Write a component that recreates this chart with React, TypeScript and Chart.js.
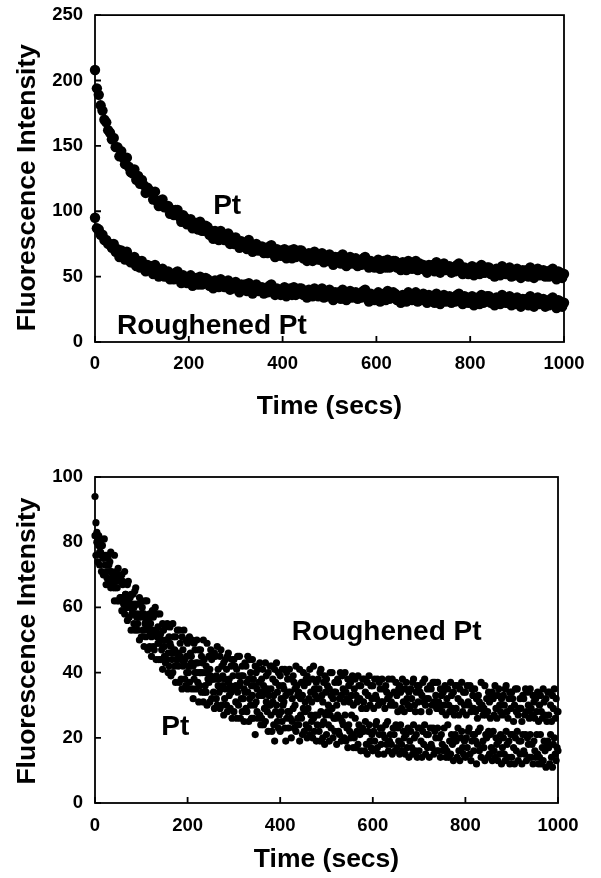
import React, { useEffect, useRef } from "react";
import { Chart, registerables } from "chart.js";

Chart.register(...registerables);

const FONT = "Arial, 'Liberation Sans', Helvetica, sans-serif";

// sampling interval (seconds) of each panel's time series
const topTimeStep = 4;
const bottomTimeStep = 2;

// ---- Top panel: fluorescence intensity vs time ----
const topPt = [
  208,194,189,181,177,170,168,162,160,155,
  156,149,149,142,146,141,136,141,134,130,
  129,132,124,127,121,124,120,114,118,116,
  115,109,115,108,104,108,109,103,103,104,
  98,101,97,101,101,96,92,97,95,90,
  93,94,87,90,91,86,92,85,85,89,
  88,82,85,79,85,82,78,85,79,78,
  78,83,75,80,75,80,76,72,77,76,
  76,71,78,72,69,74,75,70,72,73,
  68,72,68,73,74,69,65,71,70,66,
  70,71,64,68,70,64,71,65,66,70,
  70,64,67,62,68,65,62,69,64,63,
  63,68,61,66,62,67,64,59,65,64,
  65,60,67,62,58,63,65,60,62,64,
  58,62,59,64,65,60,57,62,61,57,
  61,63,56,60,62,57,63,57,58,62,
  62,57,60,55,61,58,55,62,57,56,
  57,62,55,60,56,59,57,53,59,58,
  59,54,61,56,53,58,60,55,56,58,
  53,57,54,59,60,55,52,57,56,52,
  56,58,51,55,57,52,59,53,53,57,
  57,52,55,50,56,54,51,58,53,52,
  52,57,50,55,51,56,53,49,55,54,
  55,50,57,52,49,54,56,51,52,55,
  50,54,50,55,56,51,48,54,53,49,
  52,
];

const topRough = [
  95,87,86,82,82,78,78,75,75,72,
  75,69,71,65,70,67,63,69,63,61,
  61,65,58,62,57,62,58,54,59,57,
  58,52,59,53,50,54,56,50,52,54,
  48,52,48,53,54,49,45,51,50,45,
  49,51,43,47,49,44,50,44,45,49,
  48,43,46,41,47,45,42,48,43,42,
  42,47,40,45,41,46,43,38,44,43,
  44,39,45,40,37,42,44,39,40,42,
  37,41,38,43,44,39,36,41,40,36,
  40,42,35,39,41,36,42,36,37,41,
  41,36,39,34,40,38,35,41,36,35,
  36,41,34,39,35,40,37,32,38,37,
  38,33,40,35,32,37,39,34,36,38,
  33,37,34,39,40,35,31,37,36,32,
  36,38,31,35,37,32,39,33,34,38,
  37,32,35,30,36,34,31,38,33,32,
  33,38,31,36,32,37,34,30,36,35,
  35,30,37,32,29,34,36,31,33,35,
  30,34,31,36,37,32,29,35,34,30,
  33,35,28,32,34,29,36,30,31,35,
  35,30,33,28,34,32,29,36,31,30,
  30,35,28,33,29,34,31,27,33,32,
  33,28,35,30,27,32,34,29,31,33,
  27,31,28,33,34,29,26,32,31,27,
  30,
];

// ---- Bottom panel ----
const bottomRough = [
  94,86,83,80,82,77,81,76,79,75,
  81,73,76,69,76,73,71,77,71,67,
  69,76,66,71,66,72,69,63,70,70,
  68,63,71,64,60,67,68,63,60,64,
  58,64,60,65,66,58,55,61,63,57,
  62,60,53,58,62,56,62,54,56,58,
  55,51,59,57,52,60,53,58,54,49,
  58,52,50,55,53,48,54,50,55,46,
  51,54,48,46,55,51,47,51,44,53,
  46,53,49,44,51,47,53,44,50,45,
  49,42,51,46,45,50,42,49,47,43,
  50,43,47,40,47,45,43,50,44,40,
  42,49,40,45,41,47,44,38,46,46,
  45,39,48,41,38,45,47,42,39,43,
  38,44,41,45,46,38,36,42,44,39,
  44,42,36,41,45,39,45,37,39,42,
  39,35,43,42,37,45,38,44,40,36,
  44,38,36,42,40,35,41,37,43,34,
  38,41,36,34,43,39,35,40,33,42,
  35,42,38,33,41,37,43,34,40,36,
  39,32,41,36,35,41,33,40,38,34,
  41,34,38,32,39,37,35,42,36,33,
  34,41,32,37,33,40,36,31,38,39,
  37,32,41,34,31,38,42,35,33,37,
  32,38,35,40,41,33,31,37,39,34,
  38,36,30,35,40,33,40,32,34,37,
  34,30,38,37,32,40,33,39,35,31,
  40,34,32,38,36,31,37,33,39,30,
  35,38,33,31,39,36,32,36,29,38,
  31,38,34,29,37,33,39,30,36,32,
  36,29,38,33,32,38,30,37,35,31,
  38,31,35,29,36,34,32,38,33,30,
  31,38,30,34,30,37,33,28,35,36,
  34,29,38,31,28,35,37,32,30,34,
  29,35,32,37,38,30,28,34,36,31,
  36,34,28,33,37,31,38,30,32,35,
  32,28,36,35,30,37,31,37,33,29,
  37,31,29,35,33,28,34,30,36,27,
  32,35,30,28,37,33,29,34,27,36,
  29,36,32,27,35,31,37,28,34,30,
  34,27,36,31,30,36,28,35,33,29,
  35,28,32,26,33,31,29,37,30,27,
  29,36,27,32,28,34,31,26,33,34,
  32,27,36,29,26,33,35,30,28,32,
  27,33,30,35,36,28,26,32,34,29,
  34,32,25,30,35,28,35,27,29,32,
  29,25,33,32,27,35,28,34,30,26,
  35,29,27,33,31,26,32,28,34,25,
  30,33,28,26,35,31,27,32,25,34,
  27,34,30,25,33,29,35,26,32,28,
  28,
];

const bottomPt = [
  82,76,80,74,79,73,77,71,76,70,
  76,73,67,71,75,68,74,66,67,70,
  66,62,69,68,62,70,62,68,63,59,
  67,61,58,64,61,56,62,57,63,53,
  58,61,55,53,61,57,53,57,50,58,
  51,58,53,48,55,51,57,47,53,48,
  52,45,53,48,47,52,44,51,49,44,
  51,44,47,41,48,45,43,50,44,40,
  42,49,39,44,40,46,42,37,44,44,
  42,37,45,38,35,42,43,38,36,40,
  35,40,37,42,43,35,32,38,40,35,
  40,37,31,36,40,34,40,31,34,36,
  34,30,38,37,31,39,32,38,34,29,
  38,32,30,36,34,29,35,30,36,27,
  32,35,30,28,37,33,29,34,26,35,
  28,35,31,26,34,30,36,26,32,28,
  32,25,34,29,28,34,25,32,30,26,
  33,26,30,21,31,28,26,33,27,24,
  26,33,24,29,25,31,28,22,30,30,
  27,22,31,24,19,28,30,25,23,27,
  22,28,25,30,31,23,19,26,28,23,
  28,26,20,25,29,23,30,22,24,26,
  24,19,27,26,21,29,22,28,24,20,
  29,23,21,27,25,20,26,22,27,19,
  24,27,22,19,28,24,20,25,18,27,
  21,28,24,19,27,23,29,20,26,22,
  26,18,27,22,21,26,19,25,24,20,
  27,19,23,17,24,22,20,27,21,17,
  20,26,17,22,18,24,21,16,22,23,
  22,16,25,18,15,22,24,19,17,21,
  16,22,19,24,25,17,15,21,23,18,
  23,21,15,20,24,18,25,16,19,21,
  18,15,23,21,16,24,17,23,19,15,
  24,18,16,22,20,15,21,17,23,14,
  19,22,17,15,24,20,16,21,14,23,
  16,23,19,14,22,18,24,15,21,17,
  21,14,23,18,17,23,15,22,20,16,
  23,16,20,14,21,18,16,23,17,14,
  16,24,14,19,15,21,18,13,20,21,
  19,14,23,16,13,20,22,17,15,19,
  14,20,17,22,23,15,13,19,21,16,
  21,19,12,18,22,16,23,14,17,19,
  17,13,21,20,14,22,15,21,17,13,
  22,16,14,20,18,13,19,15,21,12,
  17,20,15,13,22,18,14,19,12,21,
  14,21,17,12,20,16,22,13,19,15,
  19,12,21,16,15,21,13,20,18,14,
  21,14,18,12,19,16,14,21,15,12,
  14,21,12,17,13,19,16,11,18,19,
  17,12,21,14,11,18,20,15,13,17,
  16,
];

// axis ranges / ticks
const xMin = 0;
const xMax = 1000;
const xStep = 200;
const topYMax = 250;
const topYStep = 50;
const bottomYMax = 100;
const bottomYStep = 20;

const xTitle = "Time (secs)";
const yTitle = "Fluorescence Intensity";

// in-plot text labels: [text, time (left edge), intensity (baseline)]
const topLabels: [string, number, number][] = [
  ["Pt", 252, 98],
  ["Roughened Pt", 47, 6],
];
const bottomLabels: [string, number, number][] = [
  ["Roughened Pt", 425, 50],
  ["Pt", 143, 21],
];

const TITLE_SIZE = 26.5;

const frameAndLabels = {
  id: "frameAndLabels",
  afterDraw(chart: any, _args: any, opts: any) {
    const { ctx, chartArea: a, scales } = chart;
    ctx.save();
    ctx.strokeStyle = "#000";
    ctx.lineWidth = 1.8;
    ctx.strokeRect(a.left, a.top, a.right - a.left, a.bottom - a.top);
    const L = 6;
    ctx.beginPath();
    scales.x.ticks.forEach((t: any) => {
      const px = scales.x.getPixelForValue(t.value);
      ctx.moveTo(px, a.bottom);
      ctx.lineTo(px, a.bottom - L);
    });
    scales.y.ticks.forEach((t: any) => {
      const py = scales.y.getPixelForValue(t.value);
      ctx.moveTo(a.left, py);
      ctx.lineTo(a.left + L, py);
    });
    ctx.stroke();
    ctx.fillStyle = "#000";
    // in-plot series labels
    ctx.font = `bold 28px ${FONT}`;
    ctx.textAlign = "left";
    ctx.textBaseline = "alphabetic";
    (opts.items || []).forEach((it: [string, number, number]) => {
      ctx.fillText(
        it[0],
        scales.x.getPixelForValue(it[1]),
        scales.y.getPixelForValue(it[2])
      );
    });
    // vertical axis title
    ctx.font = `bold ${TITLE_SIZE}px ${FONT}`;
    ctx.textAlign = "center";
    ctx.textBaseline = "middle";
    ctx.translate(28, (a.top + a.bottom) / 2 + (opts.yTitleShift || 0));
    ctx.rotate(-Math.PI / 2);
    ctx.fillText(yTitle, 0, 0);
    ctx.restore();
  },
};

function makeConfig(
  series: number[][],
  step: number,
  yMax: number,
  yStep: number,
  radius: number,
  pad: { top: number; right: number },
  xAxisHeight: number,
  tickPad: number,
  titlePadBottom: number,
  labels: [string, number, number][],
  yTitleShift: number
) {
  const tickFont = { family: FONT, size: 18.5, weight: "bold" as const };
  const titleFont = { family: FONT, size: TITLE_SIZE, weight: "bold" as const };
  return {
    type: "scatter" as const,
    data: {
      datasets: series.map((vals) => ({
        data: vals.map((v, i) => ({ x: i * step, y: v })),
        backgroundColor: "#000",
        borderColor: "#000",
        borderWidth: 0,
        pointRadius: radius,
        pointHoverRadius: radius,
        clip: false as const,
      })),
    },
    options: {
      responsive: false,
      animation: false as const,
      events: [],
      layout: { padding: { left: 0, top: pad.top, right: pad.right, bottom: 0 } },
      plugins: {
        legend: { display: false },
        tooltip: { enabled: false },
        frameAndLabels: { items: labels, yTitleShift },
      },
      scales: {
        x: {
          type: "linear" as const,
          min: xMin,
          max: xMax,
          grid: { display: false },
          border: { display: false },
          ticks: {
            stepSize: xStep,
            color: "#000",
            padding: tickPad,
            font: tickFont,
            callback: (v: any) => String(v),
          },
          title: {
            display: true,
            text: xTitle,
            color: "#000",
            font: titleFont,
            padding: { top: 0, bottom: titlePadBottom },
          },
          afterFit: (s: any) => {
            s.height = xAxisHeight;
          },
        },
        y: {
          type: "linear" as const,
          min: 0,
          max: yMax,
          grid: { display: false },
          border: { display: false },
          ticks: {
            stepSize: yStep,
            color: "#000",
            padding: 4,
            font: tickFont,
            callback: (v: any) => String(v),
          },
          title: { display: false, text: yTitle },
          afterFit: (s: any) => {
            s.width = 95;
          },
        },
      },
    },
    plugins: [frameAndLabels],
  };
}

function Panel(props: { height: number; top: number; cfg: any }) {
  const ref = useRef<HTMLCanvasElement>(null);
  useEffect(() => {
    if (!ref.current) return;
    const chart = new Chart(ref.current, props.cfg);
    return () => chart.destroy();
  }, []);
  return (
    <canvas
      ref={ref}
      width={601}
      height={props.height}
      style={{ position: "absolute", left: 0, top: props.top, width: 601, height: props.height }}
    />
  );
}

export default function App() {
  const topCfg = makeConfig(
    [topPt, topRough],
    topTimeStep,
    topYMax,
    topYStep,
    5.2,
    { top: 13, right: 37 },
    98,
    3,
    17,
    topLabels,
    9
  );
  const bottomCfg = makeConfig(
    [bottomRough, bottomPt],
    bottomTimeStep,
    bottomYMax,
    bottomYStep,
    3.6,
    { top: 37, right: 43 },
    75,
    4,
    2,
    bottomLabels,
    1
  );
  return (
    <div style={{ position: "absolute", left: 0, top: 0, width: 601, height: 878, background: "#fff" }}>
      <Panel height={440} top={0} cfg={topCfg} />
      <Panel height={438} top={440} cfg={bottomCfg} />
    </div>
  );
}
